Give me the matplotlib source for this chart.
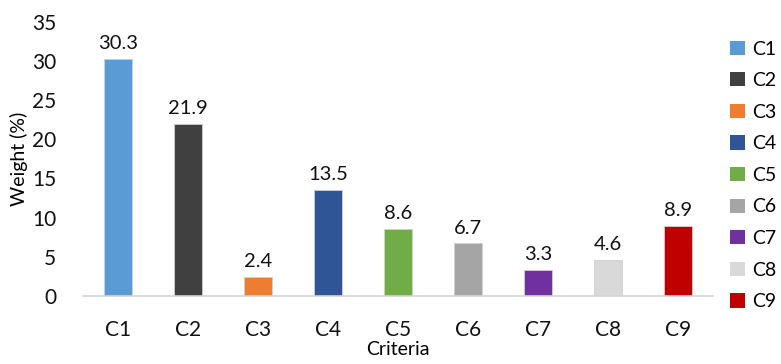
import matplotlib.pyplot as plt
from matplotlib.patches import Patch

criteria = ["C1", "C2", "C3", "C4", "C5", "C6", "C7", "C8", "C9"]
weights = [30.3, 21.9, 2.4, 13.5, 8.6, 6.7, 3.3, 4.6, 8.9]
colors = ["#5B9BD5", "#404040", "#ED7D31", "#2F5597", "#70AD47",
          "#A5A5A5", "#7030A0", "#D9D9D9", "#C00000"]

plt.rcParams['font.family'] = ['Lato', 'DejaVu Sans']

fig = plt.figure(figsize=(7.81, 3.64), dpi=100)
ax = fig.add_axes([0.106, 0.187, 0.807, 0.753])

x = range(len(criteria))
bars = ax.bar(x, weights, width=0.4, color=colors, edgecolor="#d0d0d0", linewidth=0.6)

for i, w in enumerate(weights):
    ax.annotate(f"{w}", (i, w), xytext=(0, 5), textcoords="offset points",
                ha="center", va="bottom", fontsize=14.5, color="#111111")

ax.set_xlim(-0.5, len(criteria) - 0.5)
ax.set_ylim(0, 35)
ax.set_yticks(range(0, 36, 5))
ax.set_xticks(list(x))
ax.set_xticklabels(criteria)
ax.tick_params(axis="both", length=0, labelsize=15, colors="#111111")
ax.tick_params(axis="x", pad=17)
ax.tick_params(axis="y", pad=19)

for s in ["top", "right", "left"]:
    ax.spines[s].set_visible(False)
ax.spines["bottom"].set_color("#d4d4d4")
ax.spines["bottom"].set_linewidth(1.2)

ax.set_ylabel("Weight (%)", fontsize=14, labelpad=3)
ax.set_xlabel("Criteria", fontsize=14, labelpad=1)

handles = [Patch(facecolor=c, edgecolor="none") for c in colors]
fig.legend(handles, criteria, loc="upper left", bbox_to_anchor=(0.925, 0.91),
           frameon=False, fontsize=14, handlelength=0.75, handleheight=0.75,
           handletextpad=0.4, labelspacing=0.75, borderaxespad=0)

fig.savefig("out.png", dpi=100)
